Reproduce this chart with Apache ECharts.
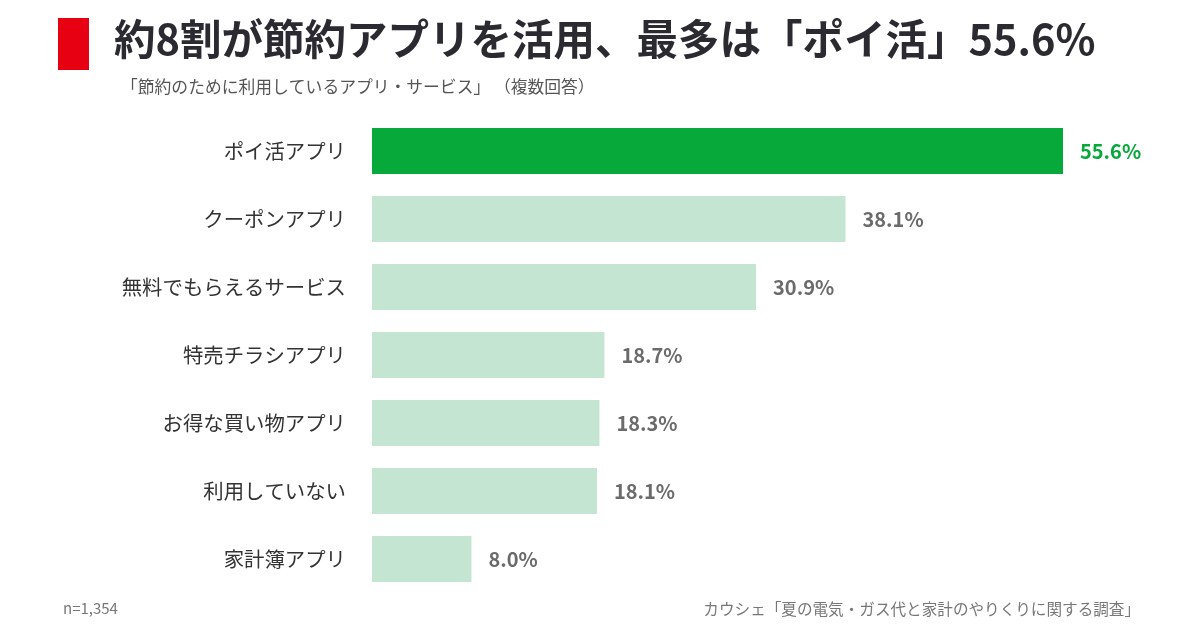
<!DOCTYPE html>
<html><head><meta charset="utf-8">
<script src="https://cdn.jsdelivr.net/npm/echarts@6/dist/echarts.min.js"></script>
<style>html,body{margin:0;padding:0;background:#fff}#c{width:1200px;height:630px}</style>
</head><body><div id="c"></div>
<script>
const categories = ["ポイ活アプリ","クーポンアプリ","無料でもらえるサービス","特売チラシアプリ","お得な買い物アプリ","利用していない","家計簿アプリ"];
const values = [55.6, 38.1, 30.9, 18.7, 18.3, 18.1, 8.0];
const titleText = "約8割が節約アプリを活用、最多は「ポイ活」55.6%";
const subtitleText = "「節約のために利用しているアプリ・サービス」 （複数回答）";
const noteText = "n=1,354";
const sourceText = "カウシェ「夏の電気・ガス代と家計のやりくりに関する調査」";

const F = '"Noto Sans CJK JP","Noto Sans",sans-serif';
const chart = echarts.init(document.getElementById('c'));
chart.setOption({
  backgroundColor:'#fff',
  animation:false,
  title:[
    {text:titleText,left:109,top:13,textStyle:{fontFamily:F,fontSize:41.5,fontWeight:'bold',color:'#2a2a30'}},
    {text:subtitleText,left:116,top:73,textStyle:{fontFamily:F,fontSize:16.8,fontWeight:'normal',color:'#555'}},
    {text:noteText,left:58,top:596,textStyle:{fontFamily:F,fontSize:15,fontWeight:'normal',color:'#777'}},
    {text:sourceText,right:55,top:596,textStyle:{fontFamily:F,fontSize:15.6,fontWeight:'normal',color:'#777'}}
  ],
  graphic:[{type:'rect',shape:{x:58,y:18,width:31,height:52},style:{fill:'#e60012'}}],
  grid:{left:372,top:117,width:745.7,height:476},
  xAxis:{type:'value',min:0,max:60,show:false},
  yAxis:{type:'category',data:categories,inverse:true,
    axisLine:{show:false},axisTick:{show:false},
    axisLabel:{margin:26,fontFamily:F,fontSize:20.4,color:'#333'}},
  series:[{type:'bar',barWidth:46,
    data:values.map((v,i)=>({value:v,itemStyle:{color:i===0?'#07a93b':'#c3e5d2'},
      label:{color:i===0?'#07a93b':'#6b6b6b'}})),
    label:{show:true,position:'right',distance:17,fontFamily:F,fontSize:20,fontWeight:'bold',
      formatter:p=>p.value.toFixed(1)+'%'}
  }]
});
</script></body></html>
